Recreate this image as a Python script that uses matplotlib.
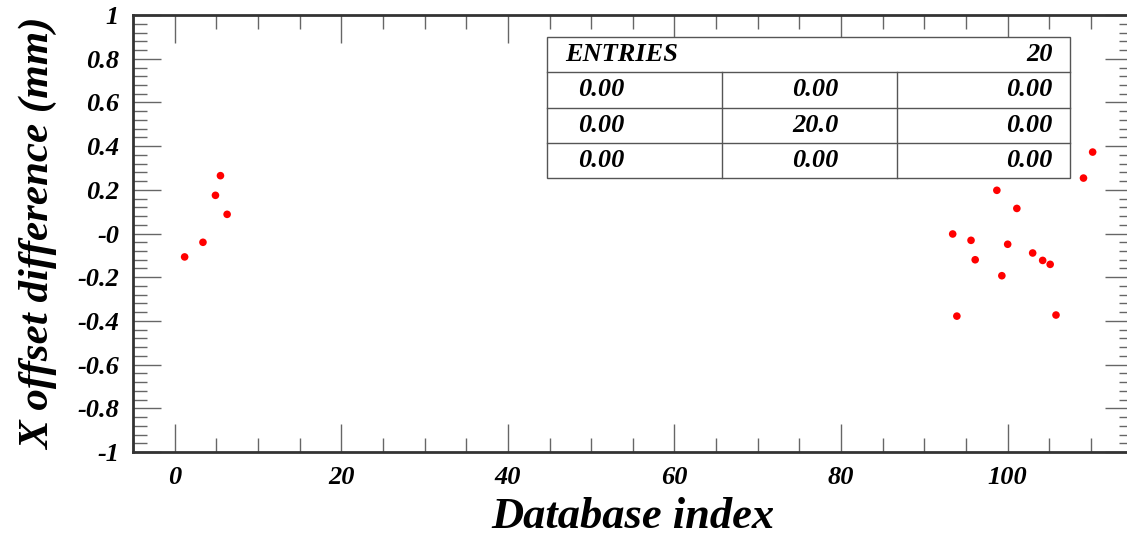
import numpy as np
import matplotlib
matplotlib.use("Agg")
import matplotlib.pyplot as plt
from matplotlib.ticker import MultipleLocator

# ----------------------------
# data
# ----------------------------
db_index = [1.2, 3.4, 4.9, 5.5, 6.3,
            93.4, 93.9, 95.3, 95.6, 96.1, 98.7, 99.3, 100.0, 101.1,
            103.0, 104.2, 105.1, 105.8, 109.1, 110.2]
x_offset_diff = [-0.107, -0.040, 0.175, 0.265, 0.088,
                 -0.002, -0.378, 0.536, -0.031, -0.120, 0.198, -0.193, -0.049, 0.115,
                 -0.089, -0.123, -0.141, -0.373, 0.254, 0.373]

ytick_vals = [-1, -0.8, -0.6, -0.4, -0.2, 0, 0.2, 0.4, 0.6, 0.8, 1]
ytick_labels = ["-1", "-0.8", "-0.6", "-0.4", "-0.2", "-0", "0.2", "0.4", "0.6", "0.8", "1"]
xtick_vals = [0, 20, 40, 60, 80, 100]

entries_label = "ENTRIES"
entries_value = "20"
stats_rows = [["0.00", "0.00", "0.00"],
              ["0.00", "20.0", "0.00"],
              ["0.00", "0.00", "0.00"]]

# ----------------------------
# figure
# ----------------------------
font = "Liberation Serif"
tick_font = dict(family=font, weight="bold", style="italic", size=19)

fig = plt.figure(figsize=(11.27, 5.40), dpi=100)
ax = fig.add_axes([0.118, 0.163, 0.887, 0.809])

ax.scatter(db_index, x_offset_diff, s=30, color="red", edgecolors="none", zorder=3)

ax.set_xlim(-5, 115)
ax.set_ylim(-1, 1)

ax.set_xticks(xtick_vals)
ax.set_xticklabels([str(v) for v in xtick_vals], **tick_font)
ax.set_yticks(ytick_vals)
ax.set_yticklabels(ytick_labels, **tick_font)
ax.xaxis.set_minor_locator(MultipleLocator(5))
ax.yaxis.set_minor_locator(MultipleLocator(0.04))

ax.tick_params(which="both", direction="in", top=True, right=True, color="#666666", width=1)
ax.tick_params(which="major", length=20, pad=10)
ax.tick_params(which="minor", length=10)
for sp in ax.spines.values():
    sp.set_color("#333333")
    sp.set_linewidth(2)
ax.spines["right"].set_visible(False)  # frame runs off the right edge in the original

ax.set_xlabel("Database index", family=font, weight="bold", style="italic", size=32, labelpad=6)
ax.set_ylabel("X offset difference (mm)", family=font, weight="bold", style="italic", size=31, labelpad=14)

# ----------------------------
# stats box
# ----------------------------
bx0, bx1 = 0.414, 0.937
by1, by0 = 0.950, 0.627
rh = (by1 - by0) / 4
col_div = [0.589, 0.764]
box_kw = dict(transform=ax.transAxes, color="#555555", lw=1, zorder=4)

ax.add_patch(plt.Rectangle((bx0, by0), bx1 - bx0, by1 - by0, transform=ax.transAxes,
                           facecolor="white", edgecolor="#555555", lw=1, zorder=4))
for i in range(1, 4):
    ax.plot([bx0, bx1], [by1 - i * rh] * 2, **box_kw)
for cx in col_div:
    ax.plot([cx, cx], [by0, by1 - rh], **box_kw)

ax.text(0.432, by1 - rh / 2, entries_label, transform=ax.transAxes, ha="left", va="center",
        zorder=5, **tick_font)
ax.text(0.920, by1 - rh / 2, entries_value, transform=ax.transAxes, ha="right", va="center",
        zorder=5, **tick_font)
col_x = [(0.445, "left"), (0.683, "center"), (0.920, "right")]
for r, row in enumerate(stats_rows):
    yc = by1 - rh * (r + 1.5)
    for (cx, ha), val in zip(col_x, row):
        ax.text(cx, yc, val, transform=ax.transAxes, ha=ha, va="center", zorder=5, **tick_font)

fig.savefig("out.png", dpi=100)
